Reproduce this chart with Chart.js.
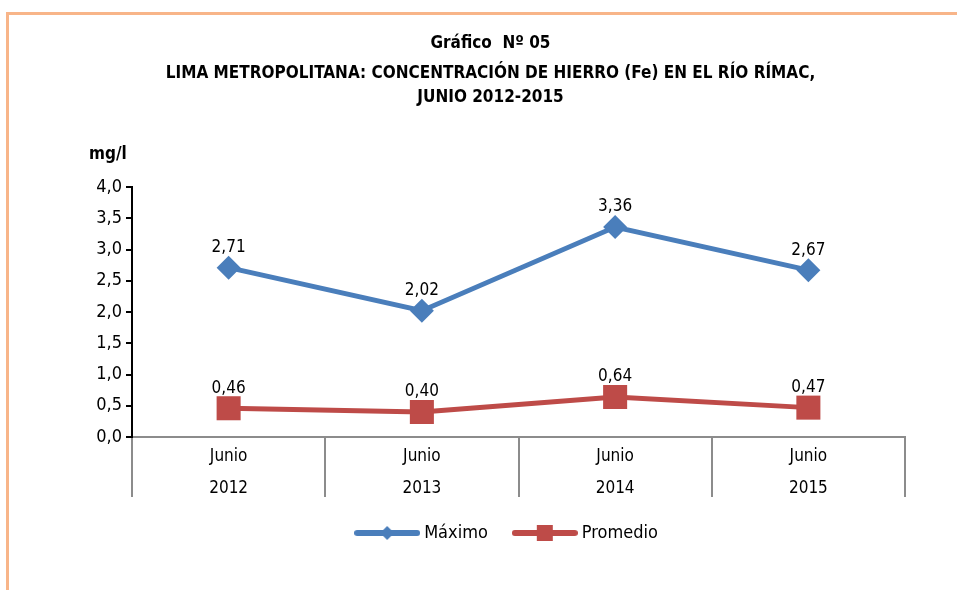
<!DOCTYPE html>
<html>
<head>
<meta charset="utf-8">
<script src="https://cdn.jsdelivr.net/npm/chart.js@4.4.1/dist/chart.umd.min.js"></script>
<style>
  html, body { margin: 0; padding: 0; background: #fff; }
  #frame { position: absolute; left: 6px; top: 12px; width: 1000px; height: 700px;
           border-left: 3px solid #f8b589; border-top: 3px solid #f8b589; }
  #wrap { position: absolute; left: 0; top: 0; width: 957px; height: 590px; }
</style>
</head>
<body>
<div id="frame"></div>
<div id="wrap"><canvas id="fierroChart"></canvas></div>
<script>
const FONT = "'Liberation Sans Narrow', 'DejaVu Sans Condensed', 'Arial Narrow', sans-serif";

const categorias = [['Junio', '2012'], ['Junio', '2013'], ['Junio', '2014'], ['Junio', '2015']];
const maximo = [2.71, 2.02, 3.36, 2.67];
const promedio = [0.46, 0.40, 0.64, 0.47];
const yTicks = [0, 0.5, 1, 1.5, 2, 2.5, 3, 3.5, 4];

const AZUL = '#4a7ebb';
const ROJO = '#be4b48';

const coma = (v, d) => v.toFixed(d).replace('.', ',');

// icono de leyenda: linea con marcador
function legendIcon(color, shape) {
    const c = document.createElement('canvas');
    c.width = 66; c.height = 26;
    const g = c.getContext('2d');
    g.strokeStyle = color; g.lineWidth = 6; g.lineCap = 'round';
    g.beginPath(); g.moveTo(3, 13); g.lineTo(63, 13); g.stroke();
    g.fillStyle = color;
    g.beginPath();
    if (shape === 'diamond') {
        g.moveTo(33, 6); g.lineTo(40, 13); g.lineTo(33, 20); g.lineTo(26, 13);
    } else {
        g.rect(25, 5, 16, 16);
    }
    g.closePath(); g.fill();
    return c;
}

const etiquetasDatos = {
    id: 'etiquetasDatos',
    afterLayout(chart) {
        // la leyenda del original esta algo corrida a la derecha
        chart.legend.left += 18;
        chart.legend.right += 18;
    },
    afterDatasetsDraw(chart) {
        const ctx = chart.ctx;
        ctx.save();
        ctx.font = '17px ' + FONT;
        ctx.fillStyle = '#000';
        ctx.textAlign = 'center';
        ctx.textBaseline = 'middle';
        chart.data.datasets.forEach((ds, i) => {
            chart.getDatasetMeta(i).data.forEach((pt, j) => {
                ctx.fillText(coma(ds.data[j], 2), pt.x, pt.y - 20);
            });
        });
        // unidad
        ctx.font = 'bold 17px ' + FONT;
        ctx.textAlign = 'left';
        ctx.fillText('mg/l', 89, 155);
        ctx.restore();
    }
};

const ctx = document.getElementById('fierroChart').getContext('2d');
new Chart(ctx, {
    type: 'line',
    data: {
        labels: categorias,
        datasets: [{
            label: 'Máximo',
            data: maximo,
            borderColor: AZUL,
            backgroundColor: AZUL,
            borderWidth: 5,
            pointStyle: 'rectRot',
            pointRadius: 12,
            pointHoverRadius: 12,
            pointBorderWidth: 0,
            tension: 0
        }, {
            label: 'Promedio',
            data: promedio,
            borderColor: ROJO,
            backgroundColor: ROJO,
            borderWidth: 5,
            pointStyle: 'rect',
            pointRadius: 17,
            pointHoverRadius: 17,
            pointBorderWidth: 0,
            tension: 0
        }]
    },
    options: {
        responsive: true, maintainAspectRatio: false, animation: false,
        layout: { padding: { left: 24, right: 0, top: 0, bottom: 38 } },
        plugins: {
            title: {
                display: true,
                text: 'Gráfico  Nº 05',
                color: '#000',
                font: { family: FONT, size: 17, weight: 'bold', lineHeight: 1.2 },
                padding: { top: 33, bottom: 8 }
            },
            subtitle: {
                display: true,
                text: ['LIMA METROPOLITANA: CONCENTRACIÓN DE HIERRO (Fe) EN EL RÍO RÍMAC,', 'JUNIO 2012-2015'],
                color: '#000',
                font: { family: FONT, size: 17, weight: 'bold', lineHeight: 1.4 },
                padding: { top: 0, bottom: 78 }
            },
            legend: {
                position: 'bottom',
                labels: {
                    color: '#000',
                    font: { family: FONT, size: 18 },
                    usePointStyle: true,
                    pointStyleWidth: 56,
                    padding: 29,
                    generateLabels: (chart) => chart.data.datasets.map((ds, i) => ({
                        text: ds.label,
                        fontColor: '#000',
                        pointStyle: legendIcon(ds.borderColor, i === 0 ? 'diamond' : 'square'),
                        datasetIndex: i,
                        lineWidth: 0
                    }))
                }
            },
            tooltip: { enabled: false }
        },
        scales: {
            x: {
                offset: true,
                grid: { offset: true, drawOnChartArea: false, tickLength: 60, color: '#8c8c8c', lineWidth: 2 },
                border: { color: '#8c8c8c', width: 2 },
                ticks: { color: '#000', font: { family: FONT, size: 17, lineHeight: 1.85 }, padding: -56, maxRotation: 0 },
                afterFit: (scale) => { scale.height = 58; }
            },
            y: {
                min: 0, max: 4,
                afterBuildTicks: (scale) => { scale.ticks = yTicks.map(v => ({ value: v })); },
                grid: { drawOnChartArea: false, tickLength: 6, color: '#000', lineWidth: 2 },
                border: { color: '#000', width: 2 },
                ticks: { color: '#000', font: { family: FONT, size: 18 }, padding: 4, callback: (v) => coma(v, 1) },
                afterFit: (scale) => { scale.width = 108; }
            },
            // eje vacio a la derecha solo para dejar margen
            margen: {
                type: 'linear',
                position: 'right',
                grid: { display: false },
                border: { display: false },
                ticks: { display: false },
                afterFit: (scale) => { scale.width = 52; }
            }
        }
    },
    plugins: [etiquetasDatos]
});
</script>
</body>
</html>
